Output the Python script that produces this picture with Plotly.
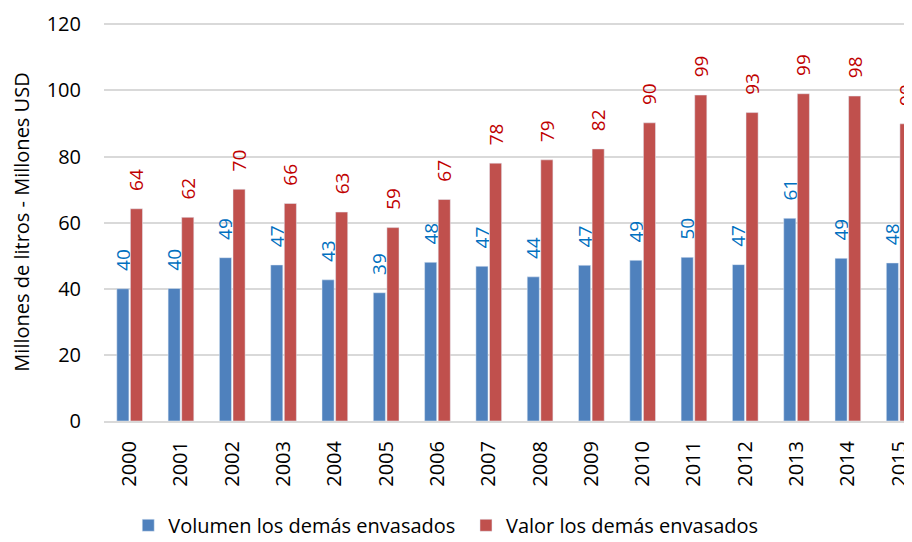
import plotly.graph_objects as go

years = [str(y) for y in range(2000, 2016)]
volumen = [40.0, 40.1, 49.4, 47.2, 42.7, 38.8, 48.0, 46.8, 43.6, 47.1, 48.6, 49.5, 47.3, 61.3, 49.2, 47.8]
valor = [64.2, 61.6, 70.1, 65.8, 63.2, 58.5, 67.0, 78.0, 79.0, 82.3, 90.2, 98.6, 93.3, 99.0, 98.3, 89.9]

FONT = "Open Sans"
PAD = "\u00a0\u00a0\u00a0"

fig = go.Figure()
fig.add_trace(go.Bar(
    x=years, y=volumen, name="Volumen los demás envasados",
    marker=dict(color="#4F81BD"),
    texttemplate=PAD + "%{y:.0f}", textposition="outside", textangle=-90,
    constraintext="none",
    textfont=dict(color="#0070C0", size=19, family=FONT),
    cliponaxis=False, legend="legend",
))
fig.add_trace(go.Bar(
    x=years, y=valor, name="Valor los demás envasados",
    marker=dict(color="#C0504D"),
    texttemplate=PAD + "%{y:.0f}", textposition="outside", textangle=-90,
    constraintext="none",
    textfont=dict(color="#C00000", size=19, family=FONT),
    cliponaxis=False, legend="legend2",
))

leg_common = dict(orientation="h", xanchor="left", y=-0.262, yanchor="middle",
                  font=dict(size=20, family=FONT), itemwidth=30, bgcolor="rgba(0,0,0,0)")

fig.update_layout(
    width=904, height=534,
    margin=dict(l=96, r=0, t=15, b=121, autoexpand=False),
    paper_bgcolor="white", plot_bgcolor="white",
    font=dict(family=FONT, size=20, color="#000000"),
    barmode="group", bargap=0.47, bargroupgap=0.11,
    showlegend=True,
    legend=dict(x=0.030, **leg_common),
    legend2=dict(x=0.448, **leg_common),
    uniformtext=dict(mode=False),
)
fig.update_xaxes(
    type="category", range=[-0.5, 15.25], tickangle=-90, automargin=False,
    showline=True, linecolor="#D9D9D9", linewidth=2,
    ticks="", tickfont=dict(size=20, family=FONT), ticklabelstandoff=10,
    showgrid=False,
)
fig.update_yaxes(
    range=[0, 120.4], tickvals=[0, 20, 40, 60, 80, 100, 120], automargin=False,
    showgrid=True, gridcolor="#D9D9D9", gridwidth=1.5,
    zeroline=False, showline=False, ticks="", ticklabelstandoff=22,
    tickfont=dict(size=20, family=FONT),
    title=dict(text="Millones de litros - Millones USD", font=dict(size=20, family=FONT), standoff=12),
)

fig.write_html("out.html")
